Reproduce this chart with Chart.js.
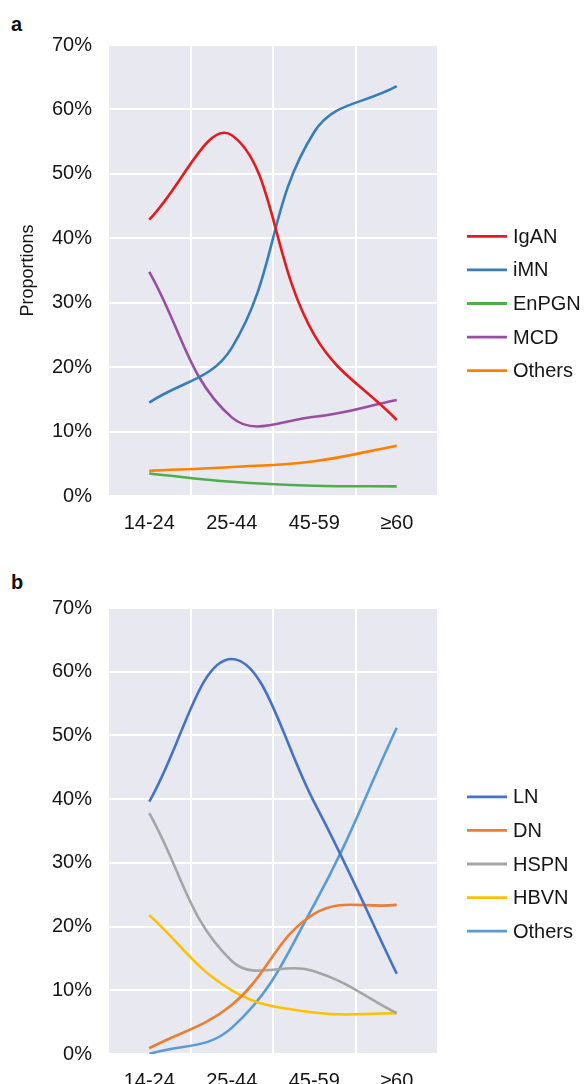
<!DOCTYPE html>
<html>
<head>
<meta charset="utf-8">
<script src="https://cdn.jsdelivr.net/npm/chart.js@4.4.1/dist/chart.umd.min.js"></script>
<style>
  html, body { margin: 0; padding: 0; background: #ffffff; }
  body { width: 584px; height: 1084px; position: relative; overflow: hidden; font-family: "Liberation Sans", Arial, sans-serif; }
  canvas { position: absolute; left: 0; }
  #ca { top: 0; }
  #cb { top: 540px; }
  .panel { position: absolute; left: 11px; font-weight: bold; font-size: 20px; color: #111; line-height: 1; }
</style>
</head>
<body>
<div class="panel" id="la" style="top:14px;">a</div>
<div class="panel" id="lb" style="top:572px;">b</div>
<canvas id="ca" width="584" height="540"></canvas>
<canvas id="cb" width="584" height="544"></canvas>
<script>
// ---- data ----
const categories = ['14-24', '25-44', '45-59', '\u226560'];
const yTicksMax = 70;
const yTicksStep = 10;

// panel a
const labelsA = ['IgAN', 'iMN', 'EnPGN', 'MCD', 'Others'];
const iganValues   = [42.9, 56.0, 25.0, 11.8];
const imnValues    = [14.5, 23.0, 56.5, 63.6];
const enpgnValues  = [3.5, 2.2, 1.6, 1.5];
const mcdValues    = [34.8, 12.2, 12.3, 14.9];
const othersAValues = [3.9, 4.5, 5.4, 7.8];
const colorsA = ['#e41a1c', '#377eb8', '#4daf4a', '#984ea3', '#ff7f00'];

// panel b
const labelsB = ['LN', 'DN', 'HSPN', 'HBVN', 'Others'];
const lnValues    = [39.6, 62.0, 39.5, 12.6];
const dnValues    = [0.9, 7.7, 22.0, 23.4];
const hspnValues  = [37.8, 14.6, 13.0, 6.4];
const hbvnValues  = [21.8, 10.0, 6.5, 6.4];
const othersBValues = [0.0, 4.1, 23.5, 51.2];
const colorsB = ['#4472c4', '#ed7d31', '#a5a5a5', '#ffc000', '#5b9bd5'];

// ---- styling ----
const FONT = '"Liberation Sans", Arial, sans-serif';
const TEXT = '#151515';
const PLOT_BG = '#e8e8f0';

const bgPlugin = {
  id: 'plotBg',
  beforeDraw(chart) {
    const {ctx, chartArea: a} = chart;
    ctx.save();
    ctx.fillStyle = PLOT_BG;
    ctx.fillRect(a.left, a.top, a.right - a.left, a.bottom - a.top);
    ctx.restore();
  }
};

const legendPlugin = {
  id: 'sideLegend',
  afterDraw(chart) {
    const {ctx, chartArea: a} = chart;
    const ds = chart.data.datasets;
    const center = (a.top + a.bottom) / 2 + 33;
    const step = 33.6;
    ctx.save();
    ctx.font = '20px ' + FONT;
    ctx.textBaseline = 'middle';
    ctx.textAlign = 'left';
    ds.forEach((d, i) => {
      const y = center + (i - (ds.length - 1) / 2) * step;
      ctx.strokeStyle = d.borderColor;
      ctx.lineWidth = 2.8;
      ctx.beginPath();
      ctx.moveTo(467, y);
      ctx.lineTo(507, y);
      ctx.stroke();
      ctx.fillStyle = TEXT;
      ctx.fillText(d.label, 513, y + 1);
    });
    ctx.restore();
  }
};

function makeDatasets(labels, series, colors) {
  return labels.map((lab, i) => ({
    label: lab,
    data: series[i],
    borderColor: colors[i],
    backgroundColor: colors[i],
    borderWidth: 2.6,
    pointRadius: 0,
    pointHoverRadius: 0,
    tension: 0.4,
    fill: false
  }));
}

function makeChart(id, datasets, opts) {
  return new Chart(document.getElementById(id), {
    type: 'line',
    data: { labels: categories, datasets },
    plugins: [bgPlugin, legendPlugin],
    options: {
      responsive: false,
      animation: false,
      devicePixelRatio: 1,
      layout: { padding: { top: opts.top, right: 146, bottom: 0, left: 0 } },
      plugins: { legend: { display: false }, tooltip: { enabled: false } },
      scales: {
        x: {
          type: 'category',
          offset: true,
          grid: { offset: true, color: '#ffffff', lineWidth: 2, drawTicks: false },
          border: { display: false },
          ticks: { color: TEXT, font: { family: FONT, size: 20 }, padding: 15, maxRotation: 0 },
          afterFit(s) { s.height = opts.xh; }
        },
        y: {
          min: 0,
          max: yTicksMax,
          grid: { color: '#ffffff', lineWidth: 2, drawTicks: false },
          border: { display: false },
          ticks: {
            stepSize: yTicksStep,
            color: TEXT,
            font: { family: FONT, size: 20 },
            padding: 16,
            callback: v => v + '%'
          },
          title: opts.title ? {
            display: true,
            text: opts.title,
            color: TEXT,
            font: { family: FONT, size: 18 },
            padding: { top: 17, bottom: 0 }
          } : { display: false },
          afterFit(s) { s.width = 108; }
        }
      }
    }
  });
}

makeChart('ca',
  makeDatasets(labelsA, [iganValues, imnValues, enpgnValues, mcdValues, othersAValues], colorsA),
  { top: 45, xh: 44, title: 'Proportions' });

makeChart('cb',
  makeDatasets(labelsB, [lnValues, dnValues, hspnValues, hbvnValues, othersBValues], colorsB),
  { top: 68, xh: 30, title: null });
</script>
</body>
</html>
